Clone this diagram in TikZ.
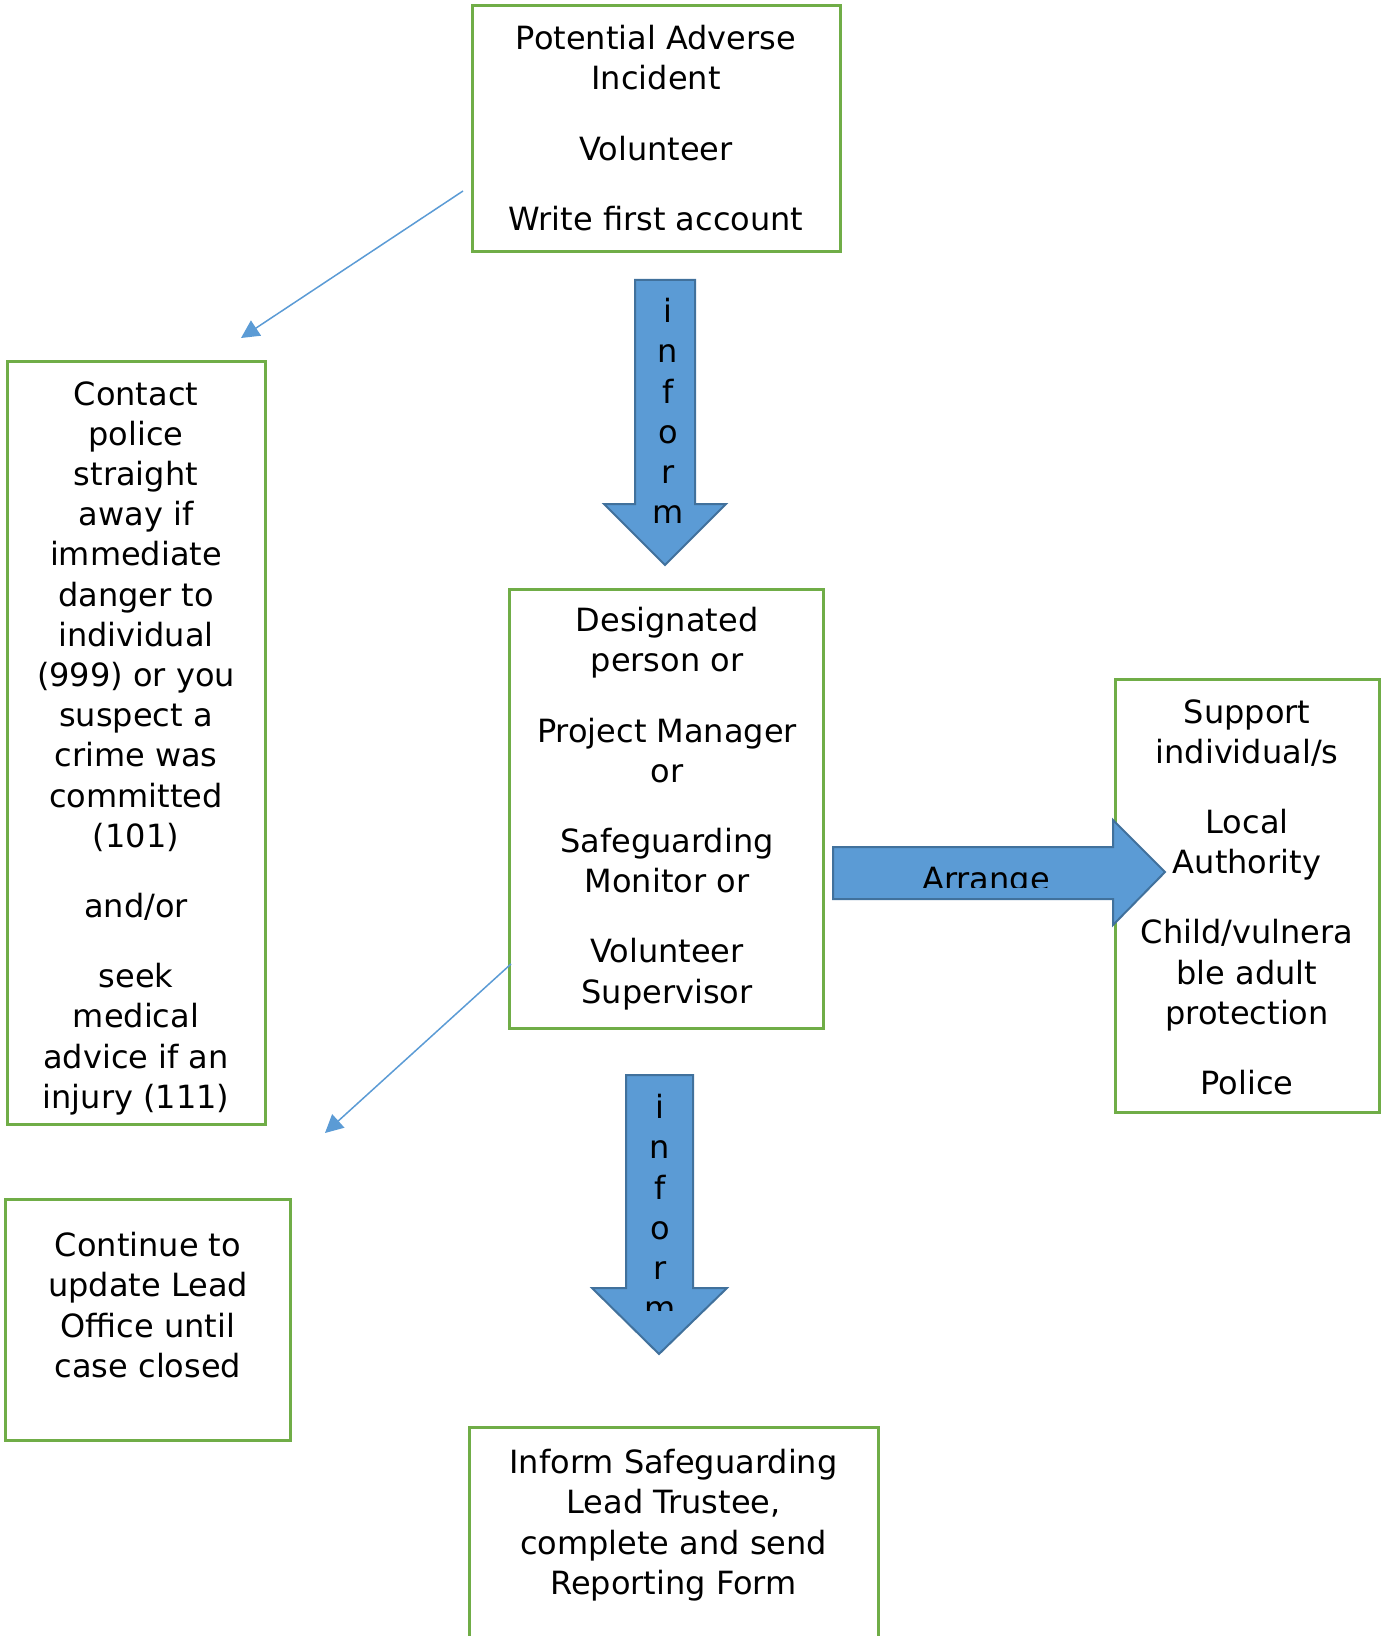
\documentclass[tikz,border=0pt]{standalone}
\usepackage{fontspec}
\setmainfont{DejaVu Sans}
\usetikzlibrary{arrows.meta}
\definecolor{boxgreen}{HTML}{70AD47}
\definecolor{arrowblue}{HTML}{5B9BD5}
\definecolor{arrowedge}{HTML}{41719C}
\tikzstyle{every node}=[inner sep=0pt, font=\fontsize{16}{20.1}\selectfont]
\tikzstyle{greenbox}=[rectangle, draw=boxgreen, line width=1.5pt]
\tikzstyle{boxtext}=[align=center, anchor=north]
\tikzstyle{blockarrow}=[fill=arrowblue, draw=arrowedge, line width=1pt]
\tikzstyle{thinarrow}=[draw=arrowblue, line width=0.75pt, -{Triangle[length=9pt,width=9pt]}]

\begin{document}
\begin{tikzpicture}[x=0.5pt,y=-0.5pt]
  \clip (0,0) rectangle (1386,1636);
  % boxes
  \node[greenbox, minimum width=184pt, minimum height=123pt] (incident) at (656,129) {};
  \node[boxtext] (incidenttext) at (656,25)
    {Potential Adverse\\Incident\\[15pt]Volunteer\\[15pt]Write first account};
  \node[greenbox, minimum width=129pt, minimum height=381pt] (police) at (136,743) {};
  \node[boxtext] (policetext) at (136,381)
    {Contact\\police\\straight\\away if\\immediate\\danger to\\individual\\(999) or you\\suspect a\\crime was\\committed\\(101)\\[15pt]and/or\\[15pt]seek\\medical\\advice if an\\injury (111)};
  \node[greenbox, minimum width=157pt, minimum height=219.5pt] (designated) at (666,808.5) {};
  \node[boxtext] (designatedtext) at (667,607)
    {Designated\\person or\\[15pt]Project Manager\\or\\[15pt]Safeguarding\\Monitor or\\[15pt]Volunteer\\Supervisor};
  \node[greenbox, minimum width=132pt, minimum height=216.5pt] (support) at (1247,895.5) {};
  \node[boxtext] (supporttext) at (1247,699)
    {Support\\individual/s\\[15pt]Local\\Authority\\[15pt]Child/vulnera\\ble adult\\protection\\[15pt]Police};
  \node[greenbox, minimum width=142.5pt, minimum height=120.5pt] (update) at (147.5,1319.5) {};
  \node[boxtext] (updatetext) at (148,1232)
    {Continue to\\update Lead\\Office until\\case closed};
  \node[greenbox, minimum width=204.5pt, minimum height=136.5pt] (lead) at (673.5,1563.5) {};
  \node[boxtext] (leadtext) at (673.5,1449)
    {Inform Safeguarding\\Lead Trustee,\\complete and send\\Reporting Form};

  % block arrows
  \draw[blockarrow] (635,280) -- (695,280) -- (695,504) -- (726,504) -- (665,565)
    -- (604,504) -- (635,504) -- cycle;
  \node[boxtext] (informtop) at (668,298) {i\\n\\f\\o\\r\\m};

  \draw[blockarrow] (626,1075) -- (693,1075) -- (693,1288) -- (727,1288) -- (659,1354)
    -- (592,1288) -- (626,1288) -- cycle;
  \begin{scope}
    \clip (592,1075) rectangle (727,1310);
    \node[boxtext] (informbottom) at (660,1094) {i\\n\\f\\o\\r\\m};
  \end{scope}

  \draw[blockarrow] (833,847) -- (1113,847) -- (1113,820) -- (1165,872) -- (1113,925)
    -- (1113,899) -- (833,899) -- cycle;
  \begin{scope}
    \clip (833,820) rectangle (1165,887);
    \node[anchor=base] (arrange) at (986,890) {Arrange};
  \end{scope}

  % thin pointers
  \coordinate (incidentptr) at (463,191);
  \coordinate (policeptr) at (241,338);
  \coordinate (designatedptr) at (511,964);
  \coordinate (updateptr) at (325,1133);
  \draw[thinarrow] (incidentptr) -- (policeptr);
  \draw[thinarrow] (designatedptr) -- (updateptr);
\end{tikzpicture}
\end{document}
